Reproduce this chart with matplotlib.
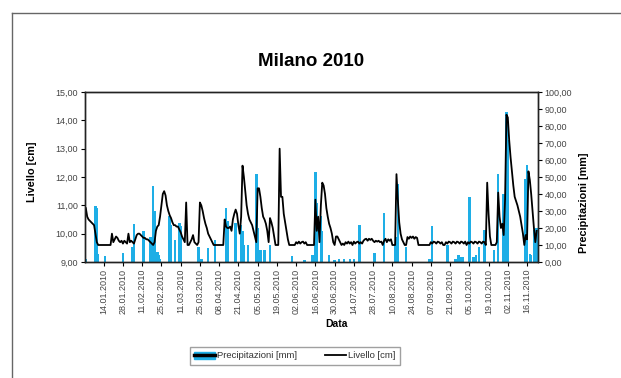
import numpy as np
import matplotlib
matplotlib.use('Agg')
import matplotlib.pyplot as plt
from matplotlib.lines import Line2D
from matplotlib.patches import Patch
from matplotlib.legend_handler import HandlerTuple
from matplotlib.ticker import FuncFormatter, MultipleLocator

plt.rcParams['font.family'] = ['Liberation Sans', 'DejaVu Sans']

# daily water level [cm], one value per record (category axis)
livello = [
    10.9, 10.6, 10.5, 10.45, 10.4, 10.35, 10.3, 10.0, 9.7, 9.6,
    9.6, 9.6, 9.6, 9.6, 9.6, 9.6, 9.6, 9.6, 9.6, 10.0,
    9.7, 9.8, 9.9, 9.85, 9.75, 9.7, 9.75, 9.65, 9.75, 9.7,
    9.65, 10.0, 9.7, 9.75, 9.7, 9.65, 9.8, 9.95, 10.0, 10.0,
    9.95, 9.9, 9.85, 9.85, 9.8, 9.8, 9.75, 9.7, 9.65, 9.6,
    9.7, 10.1, 10.25, 10.3, 10.6, 11.0, 11.4, 11.5, 11.35, 11.0,
    10.8, 10.65, 10.55, 10.4, 10.3, 10.3, 10.25, 10.25, 10.15, 10.05,
    9.9, 9.8, 9.7, 11.1, 9.6, 9.6, 9.7, 9.8, 9.95, 9.7,
    9.65, 9.6, 9.7, 11.1, 11.0, 10.8, 10.55, 10.35, 10.2, 10.0,
    9.9, 9.8, 9.7, 9.6, 9.6, 9.6, 9.6, 9.6, 9.6, 9.6, 9.6,
    10.5, 10.25, 10.2, 10.2, 10.25, 10.1, 10.5, 10.7, 10.85, 10.7,
    10.3, 10.0, 10.6, 12.4, 12.0, 11.5, 11.0, 10.7, 10.5, 10.4,
    10.3, 10.1, 9.9, 9.7, 11.6, 11.6, 11.3, 10.9, 10.6, 10.5,
    10.35, 10.1, 9.7, 10.55, 10.4, 10.2, 9.9, 9.6, 9.6, 9.6,
    13.0, 11.3, 11.3, 10.7, 10.4, 10.1, 9.8, 9.6, 9.6, 9.6,
    9.6, 9.6, 9.7, 9.65, 9.72, 9.65, 9.7, 9.72, 9.65, 9.7,
    9.6, 9.6, 9.6, 9.6, 9.6, 9.6, 11.2, 10.1, 10.6, 9.7,
    11.0, 11.8, 11.7, 11.4, 10.9, 10.6, 10.35, 10.2, 10.0, 9.7,
    9.6, 9.9, 9.9, 9.8, 9.7, 9.6, 9.65, 9.6, 9.7, 9.65,
    9.72, 9.65, 9.7, 9.6, 9.72, 9.65, 9.7, 9.72, 9.65, 9.7,
    9.65, 9.75, 9.8, 9.82, 9.75, 9.82, 9.78, 9.82, 9.75, 9.7,
    9.75, 9.72, 9.75, 9.7, 9.72, 9.6, 9.75, 9.82, 9.7, 9.8,
    9.75, 9.8, 9.6, 9.6, 9.6, 12.1, 11.2, 10.4, 10.0, 9.8,
    9.7, 9.6, 9.6, 9.88, 9.82, 9.9, 9.85, 9.9, 9.82, 9.88,
    9.85, 9.6, 9.6, 9.6, 9.6, 9.6, 9.6, 9.6, 9.6, 9.6, 9.7,
    9.65, 9.72, 9.7, 9.65, 9.72, 9.7, 9.65, 9.7, 9.6, 9.6,
    9.7, 9.65, 9.72, 9.7, 9.65, 9.72, 9.7, 9.65, 9.72, 9.7,
    9.65, 9.72, 9.7, 9.65, 9.72, 9.6, 9.7, 9.65, 9.72, 9.7,
    9.65, 9.72, 9.7, 9.65, 9.72, 9.7, 9.65, 9.72, 9.7, 9.6,
    11.8, 10.7, 9.9, 9.6, 9.6, 9.6, 9.6, 9.7, 11.45, 10.6,
    10.2, 10.35, 9.95, 11.2, 14.2, 14.1, 13.3, 12.7, 12.2, 11.7,
    11.3, 11.15, 11.0, 10.8, 10.6, 10.3, 10.0, 9.6, 9.95, 9.8,
    12.2, 11.9, 11.4, 10.8, 10.2, 9.7, 10.1,
]

# rainy records (index) and rain [mm]
rain_idx = [0, 7, 8, 9, 14, 27, 34, 35, 42, 47, 49, 50, 52, 53, 54,
            61, 62, 65, 68, 69, 82, 84, 89, 94, 102, 103, 109, 113, 114, 115,
            118, 124, 125, 127, 130, 134, 150, 159, 165, 167, 168, 171, 172, 177, 181,
            184, 188, 192, 195, 199, 210, 217, 225, 226, 227, 233, 250, 252, 263, 269,
            271, 272, 274, 279, 282, 284, 286, 290, 297, 300, 304, 306, 307, 320, 321,
            323, 324, 326, 327, 328]
rain_mm = [2, 33, 31.5, 5, 3.5, 5.5, 9, 22.5, 18, 15, 45, 30, 6, 4, 2,
           27, 22, 13, 23, 21, 9, 2, 8, 13, 31.5, 24, 23, 22, 18, 10,
           10, 52, 20, 7, 7, 10, 3.5, 1.2, 4, 53, 35, 27, 18, 4, 1.2,
           2, 2, 2, 2, 22, 5.5, 29, 10, 15, 46, 9, 2, 21, 10, 2,
           4, 3, 3, 38, 3, 4, 9, 19, 7, 52, 40, 88, 72, 49, 57,
           5, 4, 19, 18, 20]

# date labels, every 14th record
date_labels = ['14.01.2010', '28.01.2010', '11.02.2010', '25.02.2010', '11.03.2010',
               '25.03.2010', '08.04.2010', '21.04.2010', '05.05.2010', '19.05.2010',
               '02.06.2010', '16.06.2010', '30.06.2010', '14.07.2010', '28.07.2010',
               '10.08.2010', '24.08.2010', '07.09.2010', '21.09.2010', '05.10.2010',
               '19.10.2010', '02.11.2010', '16.11.2010']

blue = '#1eaee6'

x = np.arange(len(livello))
precip = np.zeros(len(livello))
precip[rain_idx] = rain_mm

fig = plt.figure(figsize=(6.21, 3.78), dpi=100)
ax = fig.add_axes([85 / 621, 1 - 262 / 378, (537.5 - 85) / 621, 170 / 378])
ax2 = ax.twinx()

ax2.bar(x, precip, width=1.8, color=blue, linewidth=0)
ax.plot(x, livello, color='black', lw=1.3)
ax.set_zorder(ax2.get_zorder() + 1)
ax.patch.set_visible(False)

ax.set_xlim(-0.6, len(livello) - 0.4)
ax.set_ylim(9, 15)
ax2.set_ylim(0, 100)

fmt = FuncFormatter(lambda v, _: f'{v:.2f}'.replace('.', ','))
ax.yaxis.set_major_locator(MultipleLocator(1))
ax.yaxis.set_major_formatter(fmt)
ax2.yaxis.set_major_locator(MultipleLocator(10))
ax2.yaxis.set_major_formatter(fmt)

ax.set_xticks(13 + 14 * np.arange(len(date_labels)))
ax.set_xticklabels(date_labels, rotation=90)

for a in (ax, ax2):
    a.tick_params(labelsize=6.5, labelcolor='#444444', length=3, width=0.8, pad=2)
    for s in a.spines.values():
        s.set_linewidth(1.0)
        s.set_color('#222222')

fig.suptitle('Milano 2010', x=311 / 621, y=1 - 62 / 378, va='center',
             fontsize=13.5, fontweight='bold')
fig.text(32 / 621, 1 - 172 / 378, 'Livello [cm]', rotation=90, ha='center', va='center',
         fontsize=7.8, fontweight='bold')
fig.text(584 / 621, 1 - 203 / 378, 'Precipitazioni [mm]', rotation=90, ha='center',
         va='center', fontsize=7.8, fontweight='bold')
fig.text(337 / 621, 1 - 324 / 378, 'Data', ha='center', va='center',
         fontsize=7.5, fontweight='bold')

handles = [(Patch(facecolor=blue, edgecolor=blue), Line2D([], [], color='black', lw=2.5)),
           Line2D([], [], color='black', lw=1.3)]
leg = fig.legend(handles, ['Precipitazioni [mm]', 'Livello [cm]'],
                 handler_map={tuple: HandlerTuple(ndivide=1)},
                 loc='center', bbox_to_anchor=(295 / 621, 1 - 356 / 378), ncol=2,
                 fontsize=6.8, frameon=True, fancybox=False, handlelength=2.2,
                 handletextpad=0.2, columnspacing=3.0, borderpad=0.5)
leg.get_frame().set_edgecolor('#888888')
leg.get_frame().set_linewidth(1.0)
for t in leg.get_texts():
    t.set_color('#333333')

# figure border (left and top edges visible)
fig.add_artist(Line2D([12 / 621, 12 / 621], [0, 1 - 13 / 378], transform=fig.transFigure,
                      color='#666666', lw=1))
fig.add_artist(Line2D([12 / 621, 620 / 621], [1 - 13 / 378, 1 - 13 / 378],
                      transform=fig.transFigure, color='#666666', lw=1))

fig.savefig('out.png', dpi=100)
